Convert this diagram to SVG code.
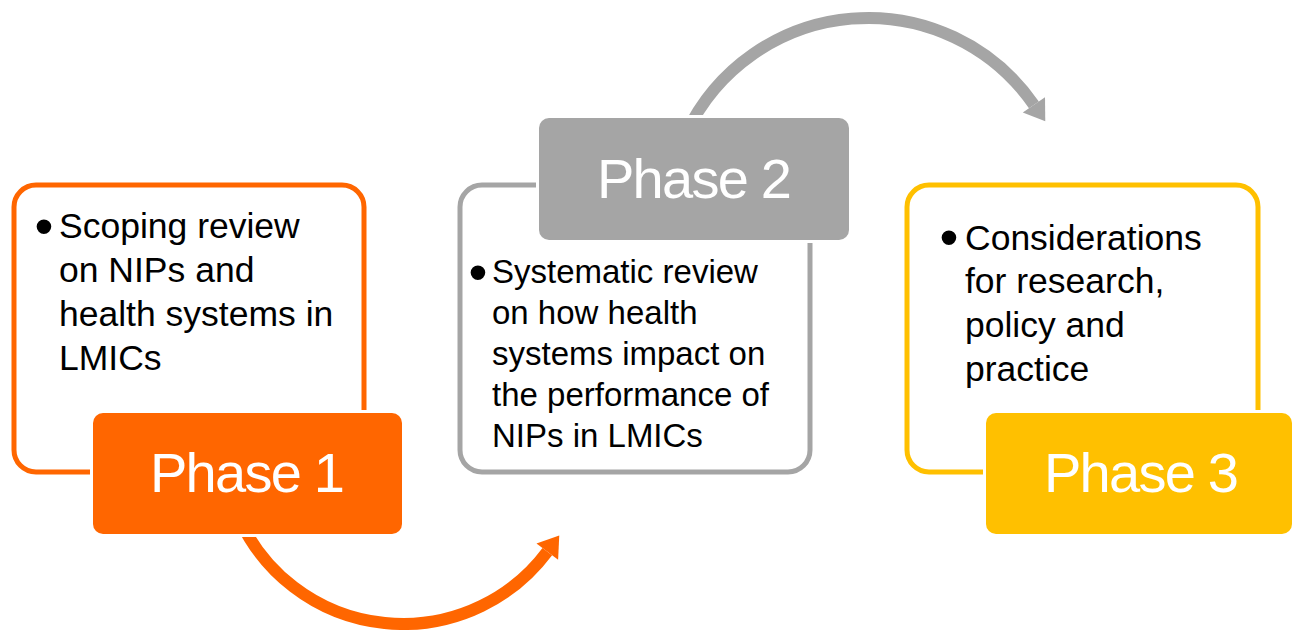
<svg xmlns="http://www.w3.org/2000/svg" width="1293" height="630" viewBox="0 0 1293 630">
  <style>
    .outline { fill: #FFFFFF; stroke-width: 5; }
    .tab { stroke: #FFFFFF; stroke-width: 6; paint-order: stroke; }
    .title { font-family: "Liberation Sans", Arial, sans-serif; font-size: 56px; fill: #FFFFFF; text-anchor: middle; }
    .body { font-family: "Liberation Sans", Arial, sans-serif; font-size: 35.5px; fill: #000000; }
    .body2 { font-family: "Liberation Sans", Arial, sans-serif; font-size: 33px; fill: #000000; }
    .bullet { font-family: "Liberation Sans", Arial, sans-serif; font-size: 54px; fill: #000000; text-anchor: middle; }
    .arc { fill: none; stroke-width: 12; }
  </style>
  <defs>
    <marker id="headOrange" markerUnits="userSpaceOnUse" markerWidth="30" markerHeight="30" refX="0" refY="15" orient="auto" overflow="visible">
      <path d="M0,1.5 L20,15 L0,28.5 Z" fill="#FF6600"/>
    </marker>
    <marker id="headGray" markerUnits="userSpaceOnUse" markerWidth="30" markerHeight="30" refX="0" refY="15" orient="auto" overflow="visible">
      <path d="M0,1.5 L20,15 L0,28.5 Z" fill="#A5A5A5"/>
    </marker>
  </defs>
  <rect width="1293" height="630" fill="#FFFFFF"/>

  <g id="connectors">
    <path class="arc" d="M 239.9 520.1 A 180 180 0 0 0 547.3 551.6" stroke="#FF6600" marker-end="url(#headOrange)"/>
    <path class="arc" d="M 685.8 134.1 A 201.3 201.3 0 0 1 1033.9 104.9" stroke="#A5A5A5" marker-end="url(#headGray)"/>
  </g>

  <g id="phase1">
    <rect class="outline" x="14" y="185" width="350" height="287" rx="22" stroke="#FF6600"/>
    <text class="bullet" x="44" y="245">•</text>
    <text class="body" x="59" y="238">Scoping review</text>
    <text class="body" x="59" y="282">on NIPs and</text>
    <text class="body" x="59" y="326">health systems in</text>
    <text class="body" x="59" y="370">LMICs</text>
    <rect class="tab" x="93" y="413" width="309" height="121" rx="10" fill="#FF6600"/>
    <text class="title" x="247.5" y="492" textLength="195">Phase 1</text>
  </g>

  <g id="phase2">
    <rect class="outline" x="460" y="185" width="350" height="287" rx="22" stroke="#A5A5A5"/>
    <text class="bullet" x="478" y="291">•</text>
    <text class="body2" x="492" y="283">Systematic review</text>
    <text class="body2" x="492" y="324">on how health</text>
    <text class="body2" x="492" y="365">systems impact on</text>
    <text class="body2" x="492" y="406">the performance of</text>
    <text class="body2" x="492" y="447">NIPs in LMICs</text>
    <rect class="tab" x="539" y="118" width="310" height="122" rx="10" fill="#A5A5A5"/>
    <text class="title" x="694.5" y="198" textLength="195">Phase 2</text>
  </g>

  <g id="phase3">
    <rect class="outline" x="907" y="185" width="351" height="287" rx="22" stroke="#FFC000"/>
    <text class="bullet" x="949" y="256">•</text>
    <text class="body" x="965" y="250">Considerations</text>
    <text class="body" x="965" y="293">for research,</text>
    <text class="body" x="965" y="337">policy and</text>
    <text class="body" x="965" y="381">practice</text>
    <rect class="tab" x="986" y="413" width="306" height="121" rx="10" fill="#FFC000"/>
    <text class="title" x="1141.5" y="492" textLength="195">Phase 3</text>
  </g>
</svg>
